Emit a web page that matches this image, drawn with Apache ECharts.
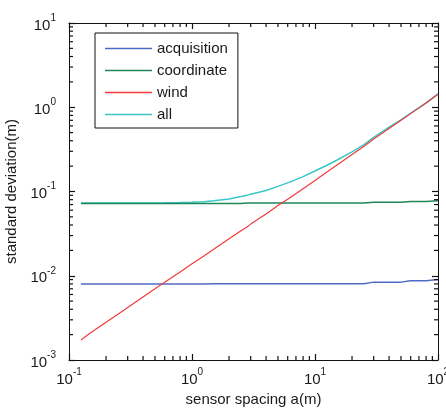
<!DOCTYPE html>
<html>
<head>
<meta charset="utf-8">
<script src="https://cdn.jsdelivr.net/npm/echarts@6/dist/echarts.min.js"></script>
<style>html,body{margin:0;padding:0;background:#fff}#c{width:446px;height:408px}</style>
</head>
<body>
<div id="c"></div>
<script>
var spacing = [0.125, 0.15, 0.2, 0.25, 0.3, 0.4, 0.5, 0.6, 0.8, 1, 1.25, 1.5, 2, 2.5, 2.8, 3, 4, 5, 6.3, 8, 10, 12.5, 15, 20, 25, 30, 40, 50, 60, 80, 100];
var acquisition = [0.0080, 0.0080, 0.0080, 0.0080, 0.0080, 0.0080, 0.0080, 0.0080, 0.0080, 0.0080, 0.0080, 0.00805, 0.00805, 0.00805, 0.00805, 0.00805, 0.00805, 0.00805, 0.00805, 0.00805, 0.00805, 0.00805, 0.00805, 0.00805, 0.00805, 0.0084, 0.0084, 0.0084, 0.0087, 0.0087, 0.0090];
var coordinate = [0.0722, 0.0722, 0.0722, 0.0722, 0.0722, 0.0722, 0.0722, 0.0722, 0.0722, 0.0722, 0.0722, 0.0722, 0.0722, 0.0722, 0.0730, 0.0730, 0.0730, 0.0730, 0.0730, 0.0730, 0.0730, 0.0730, 0.0730, 0.0730, 0.0730, 0.0745, 0.0745, 0.0745, 0.0760, 0.0760, 0.0775];
var wind = [0.00173, 0.0021, 0.0028, 0.0035, 0.0042, 0.0056, 0.0070, 0.0084, 0.0111, 0.0139, 0.0172, 0.0206, 0.0274, 0.0342, 0.038, 0.041, 0.054, 0.068, 0.085, 0.108, 0.135, 0.170, 0.205, 0.275, 0.345, 0.42, 0.56, 0.70, 0.84, 1.12, 1.43];
var all = [0.0730, 0.0730, 0.0730, 0.0730, 0.0730, 0.0731, 0.0732, 0.0734, 0.0738, 0.0745, 0.0755, 0.0775, 0.0815, 0.0870, 0.090, 0.093, 0.103, 0.115, 0.130, 0.150, 0.175, 0.205, 0.235, 0.295, 0.360, 0.44, 0.58, 0.71, 0.85, 1.13, 1.44];
var seriesNames = ['acquisition', 'coordinate', 'wind', 'all'];
var seriesColors = ['#4f6cc4', '#21865a', '#f23a3a', '#38c8c8'];
var xRange = [0.1, 100];
var yRange = [0.001, 10];

function pairs(ys) { return spacing.map(function (x, i) { return [x, ys[i]]; }); }
// minor tick values 2..9 x 10^k inside a log range
function minorVals(range) {
  var out = [];
  var lo = Math.round(Math.log10(range[0])), hi = Math.round(Math.log10(range[1]));
  for (var k = lo; k < hi; k++) {
    for (var m = 2; m <= 9; m++) out.push(+(m * Math.pow(10, k)).toPrecision(6));
  }
  return out;
}
function powLabel(v) {
  var e = Math.round(Math.log10(v));
  return '{b|10}{e|' + e + '}';
}
var txt = '#1a1a1a';
var axisCol = '#111';
var minorLen = 4;
var rich = {
  b: { fontSize: 15, lineHeight: 20, color: txt, fontFamily: 'Liberation Sans', verticalAlign: 'bottom' },
  e: { fontSize: 10, lineHeight: 10, color: txt, fontFamily: 'Liberation Sans', verticalAlign: 'top' }
};
function majorAxis(pos, range, showLabel, extra) {
  var a = {
    type: 'log', logBase: 10, position: pos, gridIndex: 0,
    min: range[0], max: range[1],
    axisLine: { show: true, onZero: false, lineStyle: { color: axisCol, width: 1 } },
    axisTick: { show: true, inside: true, length: 6, lineStyle: { color: axisCol, width: 1.2 } },
    splitLine: { show: false },
    axisLabel: { show: showLabel, formatter: powLabel, rich: rich, margin: 13 }
  };
  for (var k in extra) a[k] = extra[k];
  return a;
}
var chart = echarts.init(document.getElementById('c'), null, { renderer: 'canvas' });
var series = [acquisition, coordinate, wind, all].map(function (d, i) {
  return {
    name: seriesNames[i], type: 'line', data: pairs(d), symbol: 'none',
    xAxisIndex: 0, yAxisIndex: 0,
    lineStyle: { color: seriesColors[i], width: i === 2 ? 1.2 : 1.5 },
    itemStyle: { color: seriesColors[i] },
    z: i === 3 ? 1 : 2,
    animation: false
  };
});
function tickLine(x1, y1, x2, y2) {
  return { type: 'line', shape: { x1: x1, y1: y1, x2: x2, y2: y2 },
    style: { stroke: axisCol, lineWidth: 1.2 } };
}
// minor ticks of the x axis (bottom and top), placed through the axis scale
series.push({
  type: 'custom', name: 'xminor', xAxisIndex: 0, yAxisIndex: 0, clip: false, silent: true, z: 5,
  data: minorVals(xRange).map(function (v) { return [v, yRange[0]]; }),
  renderItem: function (params, api) {
    var b = api.coord([api.value(0), yRange[0]]);
    var t = api.coord([api.value(0), yRange[1]]);
    return { type: 'group', children: [
      tickLine(b[0], b[1], b[0], b[1] - minorLen),
      tickLine(t[0], t[1], t[0], t[1] + minorLen)
    ] };
  }
});
// minor ticks of the y axis (left and right)
series.push({
  type: 'custom', name: 'yminor', xAxisIndex: 0, yAxisIndex: 0, clip: false, silent: true, z: 5,
  data: minorVals(yRange).map(function (v) { return [xRange[0], v]; }),
  renderItem: function (params, api) {
    var l = api.coord([xRange[0], api.value(1)]);
    var r = api.coord([xRange[1], api.value(1)]);
    return { type: 'group', children: [
      tickLine(l[0], l[1], l[0] + minorLen, l[1]),
      tickLine(r[0], r[1], r[0] - minorLen, r[1])
    ] };
  }
});
var nameStyle = { fontSize: 15, color: txt, fontFamily: 'Liberation Sans' };
chart.setOption({
  backgroundColor: '#fff',
  animation: false,
  grid: { left: 69, right: 8, top: 23, bottom: 48, containLabel: false, outerBoundsMode: 'none' },
  legend: {
    orient: 'vertical', left: 95, top: 33,
    data: seriesNames,
    icon: 'path://M0,0 H47 V1.4 H0 Z',
    itemWidth: 47, itemHeight: 14, itemGap: 7,
    padding: [8, 10, 6, 10],
    borderColor: '#111', borderWidth: 1, backgroundColor: '#fff',
    textStyle: { fontSize: 15, color: txt, fontFamily: 'Liberation Sans', lineHeight: 14 },
    selectedMode: false
  },
  xAxis: [
    majorAxis('bottom', xRange, true, { name: 'sensor spacing a(m)', nameLocation: 'middle', nameGap: 28, nameTextStyle: nameStyle,
      axisLabel: { show: true, formatter: powLabel, rich: rich, margin: 7 } }),
    majorAxis('top', xRange, false, {})
  ],
  yAxis: [
    majorAxis('left', yRange, true, { name: 'standard deviation(m)', nameLocation: 'middle', nameGap: 45, nameTextStyle: nameStyle }),
    majorAxis('right', yRange, false, {})
  ],
  series: series
});
</script>
</body>
</html>
